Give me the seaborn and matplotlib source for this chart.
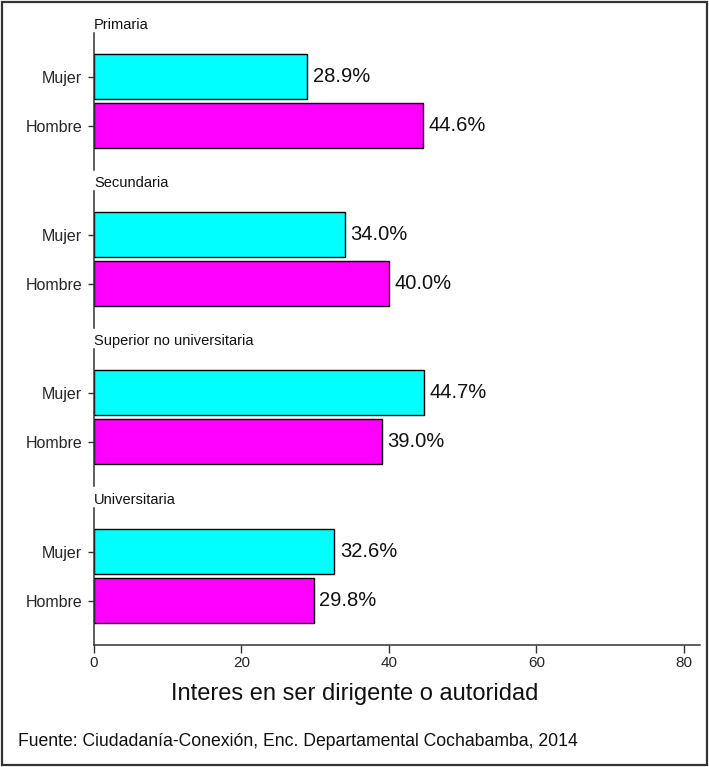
import matplotlib
matplotlib.use('Agg')
import matplotlib.pyplot as plt
import seaborn as sns
import pandas as pd
from matplotlib.patches import Rectangle

# Data
niveles = ['Primaria', 'Secundaria', 'Superior no universitaria', 'Universitaria']
sexos = ['Mujer', 'Hombre']
mujer = [28.9, 34.0, 44.7, 32.6]
hombre = [44.6, 40.0, 39.0, 29.8]
x_ticks = [0, 20, 40, 60, 80]

colores = ['#00FFFF', '#FF00FF']

sns.set_style('white')
plt.rcParams['font.family'] = ['Liberation Sans', 'DejaVu Sans']

W, H = 709, 767
fig = plt.figure(figsize=(W / 100, H / 100), dpi=100)

left_px, right_px = 94, 700
tops_px = [33, 191, 349, 508]
alto_px = 137

axes = []
for i, nivel in enumerate(niveles):
    top = tops_px[i]
    ax = fig.add_axes([left_px / W, 1 - (top + alto_px) / H, (right_px - left_px) / W, alto_px / H])
    df = pd.DataFrame({'sexo': sexos, 'valor': [mujer[i], hombre[i]]})
    sns.barplot(data=df, x='valor', y='sexo', hue='sexo', palette=colores, legend=False,
                ax=ax, edgecolor='black', linewidth=1, width=0.91, saturation=1)
    for cont in ax.containers:
        ax.bar_label(cont, fmt='%.1f%%', padding=4, fontsize=14.5, color='#111111')
    ax.set_xlim(0, 82.2)
    ax.set_ylim(1.89, -0.88)
    ax.set_ylabel('')
    ax.set_xlabel('')
    ax.set_title(nivel, loc='left', fontsize=10.5, pad=3, color='#111111')
    for s in ['top', 'right']:
        ax.spines[s].set_visible(False)
    ax.spines['left'].set_color('#333333')
    ax.spines['left'].set_linewidth(1.1)
    ax.tick_params(axis='y', left=True, length=4.5, width=1, color='#333333', labelsize=11.5, pad=4)
    if i < len(niveles) - 1:
        ax.spines['bottom'].set_visible(False)
        ax.set_xticks([])
    else:
        ax.spines['bottom'].set_color('#333333')
        ax.spines['bottom'].set_linewidth(1.1)
        ax.set_xticks(x_ticks)
        ax.tick_params(axis='x', bottom=True, length=6, width=1, color='#333333', labelsize=11, pad=2)
    axes.append(ax)

fig.text(0.5, 1 - 694 / H, 'Interes en ser dirigente o autoridad', ha='center', va='center',
         fontsize=17, color='#111111')
fig.text(18 / W, 1 - 741 / H, 'Fuente: Ciudadanía-Conexión, Enc. Departamental Cochabamba, 2014',
         ha='left', va='center', fontsize=12.7, color='#111111')

# Frame around the whole figure
fig.patches.append(Rectangle((2 / W, 2 / H), 1 - 4 / W, 1 - 4 / H, transform=fig.transFigure,
                             fill=False, edgecolor='#333333', linewidth=1.6))

fig.savefig('out.png', dpi=100)
